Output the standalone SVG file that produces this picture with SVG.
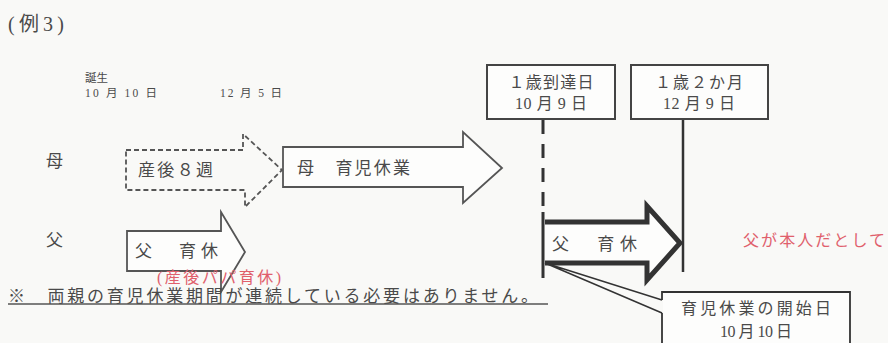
<svg xmlns="http://www.w3.org/2000/svg" width="888" height="343" viewBox="0 0 888 343">
<style>
text{font-family:"Liberation Serif","Noto Sans CJK JP",serif;fill:#4a4a4a}
.t{font-size:17px}
.b{font-size:16px}
.s{font-size:11.5px}
.r{fill:#e0606c;font-size:16px}
.box{fill:#fdfdfc;stroke:#444;stroke-width:2}
.ln{stroke:#333;fill:none}
</style>
<rect width="888" height="343" fill="#f9f9f7"/>
<text x="8" y="31" font-size="20" textLength="56" lengthAdjust="spacing">(例3)</text>
<text class="s" x="85" y="82">誕生</text>
<text class="s" x="85" y="97" textLength="72" lengthAdjust="spacing">10 月 10 日</text>
<text class="s" x="220" y="97" textLength="62" lengthAdjust="spacing">12 月 5 日</text>
<text x="46" y="167" font-size="17">母</text>
<text x="46" y="246" font-size="17">父</text>

<g id="node-postpartum">
<path d="M126,150 H243 V134 L282,170 L245,207 V190 H126 Z" fill="none" stroke="#555" stroke-width="1.8" stroke-dasharray="5,3"/>
<text class="t" x="138" y="176" textLength="75" lengthAdjust="spacing">産後８週</text>
</g>
<g id="node-mother-leave">
<path d="M283,147 H463 V132 L502,168 L463,203 V187 H283 Z" fill="#fdfdfc" stroke="#555" stroke-width="1.8"/>
<text class="t" x="297" y="174" textLength="113" lengthAdjust="spacing">母　育児休業</text>
</g>
<g id="node-father-papa">
<path d="M127,231 H221 V212 L245,252 L221,292 V271 H127 Z" fill="#fdfdfc" stroke="#555" stroke-width="1.8"/>
<text class="t" x="135" y="257" textLength="83" lengthAdjust="spacing">父　育休</text>
<text class="r" x="157" y="283" font-size="13" textLength="124" lengthAdjust="spacing">(産後パパ育休)</text>
</g>
<g id="node-age1">
<rect class="box" x="487" y="65" width="128" height="54"/>
<text class="b" x="551" y="88" text-anchor="middle" textLength="85" lengthAdjust="spacing">１歳到達日</text>
<text class="b" x="551" y="109" text-anchor="middle" textLength="72" lengthAdjust="spacing">10 月 9 日</text>
</g>
<g id="node-age1-2m">
<rect class="box" x="631" y="65" width="137" height="54"/>
<text class="b" x="699" y="88" text-anchor="middle" textLength="88" lengthAdjust="spacing">１歳２か月</text>
<text class="b" x="699" y="109" text-anchor="middle" textLength="72" lengthAdjust="spacing">12 月 9 日</text>
</g>
<g id="node-father-leave">
<path d="M545,222 H647 V206 L680,243 L647,280 V263 H545" fill="#fdfdfc" stroke="#333" stroke-width="5" stroke-linejoin="miter"/>
<text class="t" x="552" y="250" textLength="85" lengthAdjust="spacing">父　育休</text>
</g>
<g id="node-note-red">
<text class="r" x="743" y="246" textLength="142" lengthAdjust="spacing">父が本人だとして</text>
</g>
<g id="node-start">
<rect x="663" y="293" width="186" height="52" fill="#fdfdfc"/>
<path d="M662,300 V292 H850 V345" class="ln" stroke-width="1.8"/>
<text class="b" x="756" y="314" text-anchor="middle" textLength="150" lengthAdjust="spacing">育児休業の開始日</text>
<text class="b" x="756" y="337" text-anchor="middle" textLength="72" lengthAdjust="spacing">10 月 10 日</text>
</g>
<g id="node-footnote">
<text class="t" x="8" y="302" textLength="530" lengthAdjust="spacing">※　両親の育児休業期間が連続している必要はありません。</text>
<line x1="8" y1="304" x2="548" y2="304" stroke="#555" stroke-width="1.5"/>
</g>
<g id="connectors">
<line class="ln" x1="543" y1="120" x2="543" y2="212" stroke-width="3" stroke-dasharray="14,10"/>
<line class="ln" x1="543" y1="212" x2="543" y2="278" stroke-width="3"/>
<line class="ln" x1="683" y1="120" x2="683" y2="272" stroke-width="2.5"/>
<path class="ln" d="M662,300 L545,263 L662,313" stroke-width="1.5"/>
<line class="ln" x1="662" y1="313" x2="662" y2="345" stroke-width="1.8"/>
</g>
</svg>
